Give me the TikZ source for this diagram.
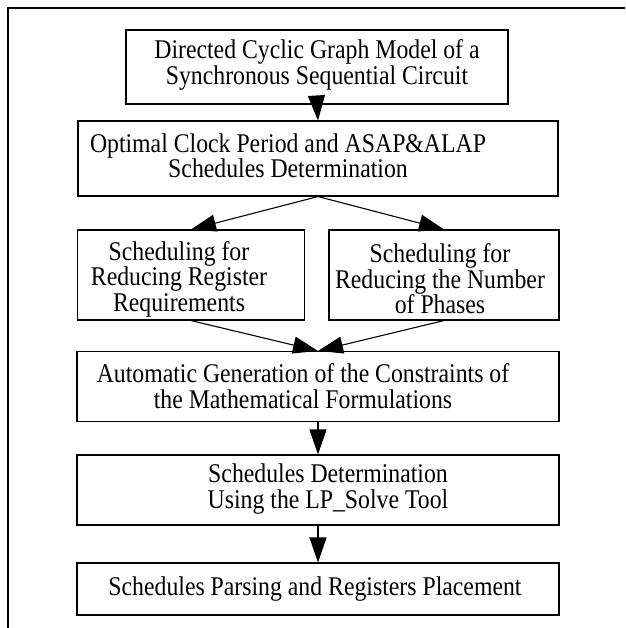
\documentclass[tikz,border=0pt]{standalone}
\usepackage{fontspec}
\setmainfont{Liberation Serif}[FakeStretch=0.88]
\usetikzlibrary{arrows.meta}
\begin{document}
\begin{tikzpicture}[x=1pt,y=-1pt,
  box/.style={draw, line width=1.1pt, inner sep=0pt},
  txt/.style={align=center, font=\fontsize{27}{25.5}\selectfont, inner sep=0pt},
  arr/.style={line width=1.1pt, -{Triangle[length=25pt,width=17pt]}},
]
\useasboundingbox (0,0) rectangle (625,628);
\draw[line width=1.5pt] (8,628) -- (8,8) -- (625,8);

\node[box, minimum width=382pt, minimum height=74pt] (b1) at (317,67) {};
\node[txt] (t1) at (317,65) {Directed Cyclic Graph Model of a\\Synchronous Sequential Circuit};

\node[box, minimum width=480pt, minimum height=75pt] (b2) at (318,158.5) {};
\node[txt] (t2) at (288,156) {Optimal Clock Period and ASAP\&ALAP\\Schedules Determination};

\node[box, minimum width=227pt, minimum height=90pt] (b3) at (191,275) {};
\node[txt] (t3) at (179,279) {Scheduling for\\Reducing Register\\Requirements};

\node[box, minimum width=230pt, minimum height=90pt] (b4) at (444,275) {};
\node[txt] (t4) at (440,279) {Scheduling for\\Reducing the Number\\of Phases};

\node[box, minimum width=482pt, minimum height=70pt] (b5) at (318,386.5) {};
\node[txt] (t5) at (303,386) {Automatic Generation of the Constraints of\\the Mathematical Formulations};

\node[box, minimum width=482pt, minimum height=70pt] (b6) at (318,490) {};
\node[txt] (t6) at (328,489) {Schedules Determination\\Using the LP\_Solve Tool};

\node[box, minimum width=482pt, minimum height=52pt] (b7) at (318,589) {};
\node[txt] (t7) at (315,589) {Schedules Parsing and Registers Placement};

\draw[arr] (b1.south) -- (b2.north);
\draw[arr] (b2.south) -- (b3.north);
\draw[arr] (b2.south) -- (b4.north);
\draw[arr] (b3.south) -- (b5.north);
\draw[arr] (b4.south) -- (b5.north);
\draw[arr] (b5.south) -- (b6.north);
\draw[arr] (b6.south) -- (b7.north);
\end{tikzpicture}
\end{document}
